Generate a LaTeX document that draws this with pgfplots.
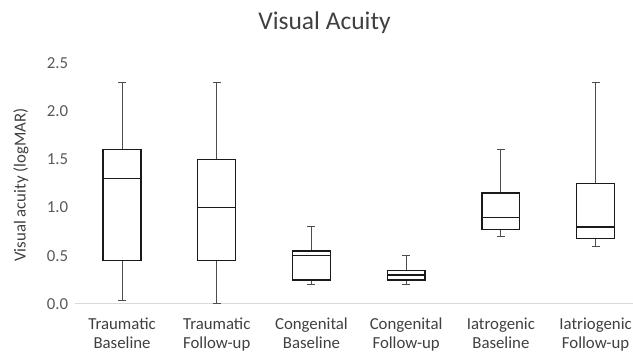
\documentclass[border=0pt]{standalone}
\usepackage{pgfplots}
\pgfplotsset{compat=1.18}
\usepgfplotslibrary{statistics}
\usepackage{fontspec}
\setmainfont{Carlito}
\definecolor{txtgray}{HTML}{595959}
\definecolor{ttlgray}{HTML}{404040}
\definecolor{axgray}{HTML}{D9D9D9}
\definecolor{boxc}{HTML}{1A1A1A}
\definecolor{whc}{HTML}{4D4D4D}
\begin{document}
\begin{tikzpicture}[x=1pt,y=1pt]
\path[use as bounding box] (0,0) rectangle (633,353);
\node[text=ttlgray, font=\fontsize{25.5}{30}\selectfont, anchor=base] at (324.5,323) {Visual Acuity};
\node[text=ttlgray, font=\fontsize{16.8}{20}\selectfont, rotate=90] at (21,168) {Visual acuity (logMAR)};
\begin{axis}[
  at={(74.7pt,49pt)}, anchor=south west,
  scale only axis, width=558.3pt, height=241pt,
  xmin=-0.5, xmax=5.395, ymin=0, ymax=2.5,
  clip=false,
  axis y line*=left,
  y axis line style={draw=none},
  axis x line*=bottom,
  x axis line style={axgray, line width=1pt, -},
  xtick={0,1,2,3,4,5},
  xticklabels={{Traumatic\\Baseline},{Traumatic\\Follow-up},{Congenital\\Baseline},{Congenital\\Follow-up},{Iatrogenic\\Baseline},{Iatriogenic\\Follow-up}},
  xticklabel style={align=center, font=\fontsize{16.8}{19.5}\selectfont, text=ttlgray, yshift=-10pt},
  major tick length=0pt,
  ytick={0,0.5,1,1.5,2,2.5},
  yticklabel style={font=\fontsize{16.8}{20}\selectfont, text=txtgray, xshift=-3pt},
  /pgf/number format/assume math mode=true,
  /pgf/number format/.cd, fixed, fixed zerofill, precision=1,
  /pgfplots/.cd,
  boxplot/draw direction=y,
  boxplot/box extend=0.4,
  boxplot/whisker extend=0.085,
  boxplot/every box/.style={draw=boxc, line width=1.3pt},
  boxplot/every median/.style={draw=boxc, line width=1.3pt},
  boxplot/every whisker/.style={draw=whc, line width=1pt},
]
\addplot[solid, mark=none, draw=boxc, boxplot prepared={draw position=0, lower whisker=0.04, lower quartile=0.45, median=1.3, upper quartile=1.6, upper whisker=2.3}] coordinates {};
\addplot[solid, mark=none, draw=boxc, boxplot prepared={draw position=1, lower whisker=0.0, lower quartile=0.45, median=1.0, upper quartile=1.5, upper whisker=2.3}] coordinates {};
\addplot[solid, mark=none, draw=boxc, boxplot prepared={draw position=2, lower whisker=0.2, lower quartile=0.25, median=0.5, upper quartile=0.55, upper whisker=0.8}] coordinates {};
\addplot[solid, mark=none, draw=boxc, boxplot prepared={draw position=3, lower whisker=0.2, lower quartile=0.25, median=0.3, upper quartile=0.35, upper whisker=0.5}] coordinates {};
\addplot[solid, mark=none, draw=boxc, boxplot prepared={draw position=4, lower whisker=0.7, lower quartile=0.77, median=0.9, upper quartile=1.15, upper whisker=1.6}] coordinates {};
\addplot[solid, mark=none, draw=boxc, boxplot prepared={draw position=5, lower whisker=0.6, lower quartile=0.68, median=0.8, upper quartile=1.25, upper whisker=2.3}] coordinates {};
\end{axis}
\end{tikzpicture}
\end{document}
